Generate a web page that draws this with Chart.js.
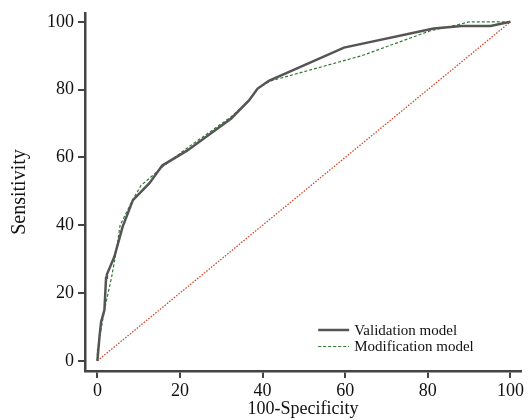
<!DOCTYPE html>
<html>
<head>
<meta charset="utf-8">
<script src="https://cdn.jsdelivr.net/npm/chart.js@4"></script>
<style>
  html, body { margin: 0; padding: 0; background: #ffffff; }
  #wrap { width: 528px; height: 420px; }
</style>
</head>
<body>
<div id="wrap"><canvas id="rocChart" width="528" height="420"></canvas></div>
<script>
// Datos de las curvas ROC
const validationX = [0, 0.5, 0.9, 1.7, 2.1, 2.3, 4.1, 6.1, 8.6, 12.6, 15.7, 21.7, 32.4, 36.7, 38.8, 41.5, 59.7, 81.4, 88.2, 95.2, 100];
const validationY = [0, 7, 11.5, 15, 24.5, 25.5, 30.7, 39.5, 47.4, 52.4, 57.6, 62, 71.5, 76.8, 80.3, 82.6, 92.4, 98, 98.8, 98.8, 100];

const modificationX = [0, 0, 1.7, 3.4, 4.6, 5.5, 8.5, 10.6, 12.6, 15.5, 22, 32.4, 36.7, 39.1, 42, 44.7, 64, 80.7, 88.2, 89.9, 100];
const modificationY = [0, 3, 15, 24.4, 32.6, 40, 47.4, 51.8, 53.8, 57, 63, 72, 76.8, 80.6, 82.6, 83.5, 90, 97.4, 99.4, 100, 100];

// Línea de referencia (diagonal)
const referenceX = [0, 100];
const referenceY = [0, 100];

const tickValues = [0, 20, 40, 60, 80, 100];
const seriesLabels = ['Validation model', 'Modification model'];

const toPoints = (xs, ys) => xs.map((x, i) => ({ x: x, y: ys[i] }));

const serif = "'Liberation Serif', 'DejaVu Serif', serif";

// Leyenda dibujada dentro del área del gráfico (abajo a la derecha)
const legendPlugin = {
    id: 'innerLegend',
    afterDraw(chart) {
        const ctx = chart.ctx;
        const area = chart.chartArea;
        const x0 = area.right - 203;
        const y0 = area.bottom - 41;
        ctx.save();
        chart.data.datasets.slice(0, 2).forEach((ds, i) => {
            const y = y0 + i * 16.5;
            ctx.beginPath();
            ctx.strokeStyle = ds.borderColor;
            ctx.lineWidth = ds.borderWidth;
            ctx.setLineDash(ds.borderDash || []);
            ctx.moveTo(x0, y);
            ctx.lineTo(x0 + 31, y);
            ctx.stroke();
            ctx.setLineDash([]);
            ctx.fillStyle = '#111111';
            ctx.font = '15px ' + serif;
            ctx.textBaseline = 'middle';
            ctx.fillText(ds.label, x0 + 36, y + 1);
        });
        ctx.restore();
    }
};

const axisCommon = {
    type: 'linear',
    min: -3,
    max: 102.6,
    border: { display: true, color: '#444444', width: 2.5 },
    grid: { drawOnChartArea: false, drawTicks: true, tickLength: 7, color: '#444444', lineWidth: 2 },
    ticks: { color: '#111111', font: { family: serif, size: 18, lineHeight: 1.0 }, padding: 2 },
    afterBuildTicks: (scale) => { scale.ticks = tickValues.map(v => ({ value: v })); }
};

const ctx = document.getElementById('rocChart').getContext('2d');
new Chart(ctx, {
    type: 'line',
    data: {
        datasets: [{
            label: seriesLabels[0],
            data: toPoints(validationX, validationY),
            borderColor: '#555555',
            borderWidth: 2.5,
            pointRadius: 0,
            tension: 0
        },
        {
            label: seriesLabels[1],
            data: toPoints(modificationX, modificationY),
            borderColor: '#2e7d32',
            borderWidth: 1.2,
            borderDash: [3, 2],
            pointRadius: 0,
            tension: 0
        },
        {
            label: 'Reference',
            data: toPoints(referenceX, referenceY),
            borderColor: '#d0482a',
            borderWidth: 1.3,
            borderDash: [1.5, 1.5],
            pointRadius: 0,
            tension: 0
        }]
    },
    options: {
        responsive: false,
        animation: false,
        parsing: false,
        layout: { padding: { top: 12, right: 3, left: 0, bottom: 0 } },
        plugins: {
            legend: { display: false },
            tooltip: { enabled: false }
        },
        scales: {
            x: Object.assign({}, axisCommon, {
                position: 'bottom',
                ticks: Object.assign({}, axisCommon.ticks, { padding: 4 }),
                title: { display: true, text: '100-Specificity', color: '#111111', font: { family: serif, size: 18 }, padding: { top: 2, bottom: 0 } },
                afterFit: (scale) => { scale.height = 49; }
            }),
            y: Object.assign({}, axisCommon, {
                position: 'left',
                ticks: Object.assign({}, axisCommon.ticks, { padding: 4 }),
                title: { display: true, text: 'Sensitivity', color: '#111111', font: { family: serif, size: 20 }, padding: { top: 8, bottom: 0 } },
                afterFit: (scale) => { scale.width = 85; }
            })
        }
    },
    plugins: [legendPlugin]
});
</script>
</body>
</html>
